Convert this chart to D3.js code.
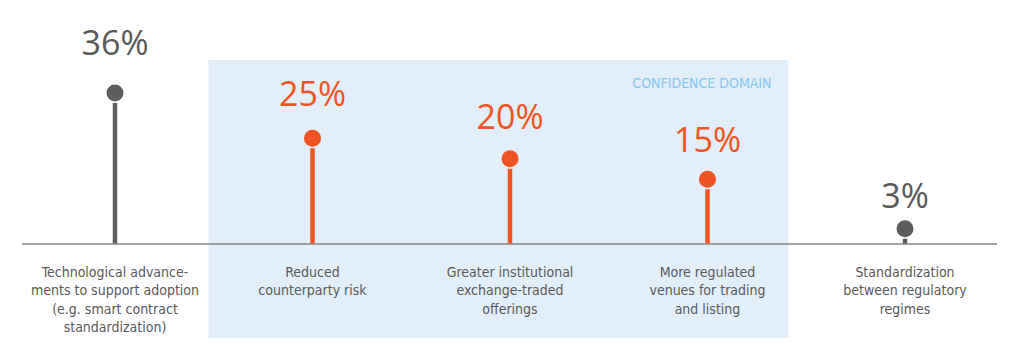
<!DOCTYPE html>
<html><head><meta charset="utf-8">
<script src="https://cdn.jsdelivr.net/npm/d3@7"></script>
<style>
html,body{margin:0;padding:0;background:#fff;}
svg{display:block;}
.cat{font-family:"Liberation Sans Narrow","DejaVu Sans Condensed","Roboto Condensed","Open Sans",sans-serif;font-stretch:condensed;}
</style></head>
<body>
<svg id="c" width="1028" height="357"></svg>
<script>
const categories = ["tech","counterparty","etp","venues","standard"];
const labels = [
  ["Technological advance-","ments to support adoption","(e.g. smart contract","standardization)"],
  ["Reduced","counterparty risk"],
  ["Greater institutional","exchange-traded","offerings"],
  ["More regulated","venues for trading","and listing"],
  ["Standardization","between regulatory","regimes"]
];
const values = [36,25,20,15,3];
const inDomain = [false,true,true,true,false];
const domainLabel = "CONFIDENCE DOMAIN";

const svg = d3.select("#c");
const x = d3.scalePoint().domain(categories).range([115,905]);
const y = d3.scaleLinear().domain([0,36]).range([241,93]);
const yLab = d3.scaleLinear().domain([0,36]).range([222,55]);
const baseY = 244;
const gray = "#5e5e5e", orange = "#f05323";

// confidence domain band
const dom = categories.filter((c,i)=>inDomain[i]);
const bx0 = x(dom[0]) - 104, bx1 = x(dom[dom.length-1]) + 81;
svg.append("rect").attr("x",bx0).attr("y",60).attr("width",bx1-bx0).attr("height",278).attr("fill","#e2eef8");
svg.append("text").attr("x",bx1-17).attr("y",88).attr("text-anchor","end")
  .attr("class","cat").attr("font-size",14).attr("fill","#86c7ec").text(domainLabel);

// baseline
svg.append("line").attr("x1",22).attr("x2",997).attr("y1",baseY).attr("y2",baseY)
  .attr("stroke","#858585").attr("stroke-width",1.5);

const r = 8.5;
const g = svg.selectAll("g.pt").data(categories).join("g").attr("class","pt");
g.append("line")
  .attr("x1",d=>x(d)).attr("x2",d=>x(d))
  .attr("y1",baseY-0.5)
  .attr("y2",(d,i)=>y(values[i])+r+1.5)
  .attr("stroke",(d,i)=>inDomain[i]?orange:gray).attr("stroke-width",4.5);
g.append("circle").attr("cx",d=>x(d)).attr("cy",(d,i)=>y(values[i])).attr("r",r)
  .attr("fill",(d,i)=>inDomain[i]?orange:gray);
g.append("text").attr("x",d=>x(d)).attr("y",(d,i)=>yLab(values[i]))
  .attr("text-anchor","middle").attr("font-family","'Open Sans',sans-serif").attr("font-size",34)
  .attr("fill",(d,i)=>inDomain[i]?orange:"#5a5a5a").text((d,i)=>values[i]+"%");
g.append("text").attr("class","cat").attr("text-anchor","middle").attr("font-size",14).attr("fill","#5a5a5a")
  .each(function(d,i){
    const t=d3.select(this);
    labels[i].forEach((ln,k)=>t.append("tspan").attr("x",x(d)).attr("y",277+k*18.3).text(ln));
  });
</script>
</body></html>
